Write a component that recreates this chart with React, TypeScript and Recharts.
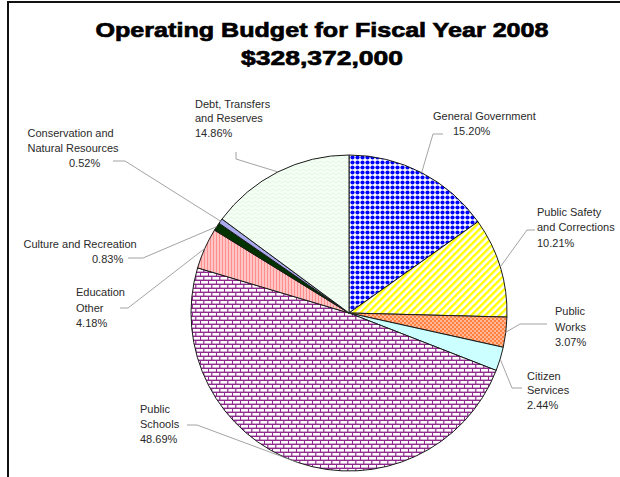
import { PieChart, Pie, Cell } from "recharts";

const categories = [
    "General Government",
    "Public Safety and Corrections",
    "Public Works",
    "Citizen Services",
    "Public Schools",
    "Education Other",
    "Culture and Recreation",
    "Conservation and Natural Resources",
    "Debt, Transfers and Reserves"
];

const shares = [15.2, 10.21, 3.07, 2.44, 48.69, 4.18, 0.83, 0.52, 14.86];

// how each label is broken into lines (percentage is added as the last line)
const labelText = [
    ["General Government"],
    ["Public Safety", "and Corrections"],
    ["Public", "Works"],
    ["Citizen", "Services"],
    ["Public", "Schools"],
    ["Education", "Other"],
    ["Culture and Recreation"],
    ["Conservation and", "Natural Resources"],
    ["Debt, Transfers", "and Reserves"]
];

const title = "Operating Budget for Fiscal Year 2008";
const subtitle = "$328,372,000";

const FILLS = [
    "url(#pGen)",
    "url(#pSafety)",
    "url(#pWorks)",
    "#ccffff",
    "url(#pSchools)",
    "url(#pEdu)",
    "#003300",
    "#aaaaee",
    "url(#pDebt)"
];

// label placement: x / baseline per line, then the bend points of the leader line
const LABEL_POS = [
    { xs: [433, 453], ys: [120, 135], leader: [[433, 134], [443, 134]] },
    { xs: [537, 537, 537], ys: [216, 231, 246.5], leader: [[527, 230], [535, 230]] },
    { xs: [555, 555, 555], ys: [315, 330.5, 346], leader: [[520, 324], [547, 324]] },
    { xs: [527, 527, 527], ys: [379.5, 394, 409], leader: [[512, 388], [522, 388]] },
    { xs: [140, 140, 140], ys: [412.5, 428, 443], leader: [[197, 425], [187, 425]] },
    { xs: [76, 76, 76], ys: [296, 311.5, 327], leader: [[128, 308], [120, 308]] },
    { xs: [23.5, 92], ys: [248, 263], leader: [[143, 258], [128, 258]] },
    { xs: [27.5, 27.5, 69], ys: [137, 152, 167], leader: [[125, 161], [113, 161]] },
    { xs: [195, 195, 195], ys: [108, 122, 136.5], leader: [[236, 159], [236, 152]] }
];

const data = categories.map((name, i) => ({ name, value: shares[i] }));

const RAD = Math.PI / 180;

function renderLabel(props: any) {
    const { cx, cy, midAngle, outerRadius, index } = props;
    const pos = LABEL_POS[index];
    const sx = cx + outerRadius * Math.cos(-midAngle * RAD);
    const sy = cy + outerRadius * Math.sin(-midAngle * RAD);
    const pts = [[sx, sy], ...pos.leader].map((p) => p.join(",")).join(" ");
    const lines = [...labelText[index], shares[index].toFixed(2) + "%"];

    return (
        <g>
            <polyline points={pts} fill="none" stroke="#8c8c8c" strokeWidth={0.8} />
            {lines.map((t, i) => (
                <text
                    key={i}
                    x={pos.xs[i]}
                    y={pos.ys[i]}
                    fontSize={11}
                    fontFamily="'Liberation Sans', Arial, sans-serif"
                    fill="#2a2a2a"
                >
                    {t}
                </text>
            ))}
        </g>
    );
}

export default function App() {

    return (

        <div style={{ position: "absolute", left: 0, top: 0, width: 620, height: 477, overflow: "hidden", background: "#fff" }}>

            <div style={{ position: "absolute", left: 7, top: 1, width: 640, height: 500, borderTop: "2px solid #111", borderLeft: "2px solid #111" }} />

            <div style={{ position: "absolute", left: 0, top: 0 }}>

                <PieChart width={620} height={477}>

                    <defs>
                        <pattern id="pGen" width="5" height="5" patternUnits="userSpaceOnUse">
                            <rect width="5" height="5" fill="#ffffff" />
                            <circle cx="2.5" cy="2.5" r="2.1" fill="#0000ff" />
                        </pattern>
                        <pattern id="pSafety" width="5" height="5" patternUnits="userSpaceOnUse" patternTransform="rotate(45)">
                            <rect width="5" height="5" fill="#ffffff" />
                            <rect width="2.4" height="5" fill="#ffff00" />
                        </pattern>
                        <pattern id="pWorks" width="4" height="4" patternUnits="userSpaceOnUse">
                            <rect width="4" height="4" fill="#ff8040" />
                            <circle cx="1" cy="1" r="0.8" fill="#ffffff" />
                            <circle cx="3" cy="3" r="0.8" fill="#ffffff" />
                        </pattern>
                        <pattern id="pSchools" width="8" height="8" patternUnits="userSpaceOnUse">
                            <rect width="8" height="8" fill="#8e2a8e" />
                            <rect x="1" y="1" width="7" height="2.6" fill="#ffffff" />
                            <rect x="0" y="5" width="3.2" height="2.6" fill="#ffffff" />
                            <rect x="4.4" y="5" width="3.6" height="2.6" fill="#ffffff" />
                        </pattern>
                        <pattern id="pEdu" width="3" height="3" patternUnits="userSpaceOnUse">
                            <rect width="3" height="3" fill="#ffc4c4" />
                            <rect width="1" height="3" fill="#ff9090" />
                        </pattern>
                        <pattern id="pDebt" width="6" height="4" patternUnits="userSpaceOnUse">
                            <rect width="6" height="4" fill="#f5fff5" />
                            <path d="M0 3 L3 1 L6 3" fill="none" stroke="#d8f4da" strokeWidth="0.7" />
                        </pattern>
                    </defs>

                    <text
                        x={322}
                        y={37}
                        textAnchor="middle"
                        fontSize={21}
                        fontWeight="bold"
                        fontFamily="'Liberation Sans', Arial, sans-serif"
                        textLength={453}
                        lengthAdjust="spacingAndGlyphs"
                        fill="#000"
                        stroke="#000"
                        strokeWidth={0.7}
                    >
                        {title}
                    </text>
                    <text
                        x={322}
                        y={65}
                        textAnchor="middle"
                        fontSize={21}
                        fontWeight="bold"
                        fontFamily="'Liberation Sans', Arial, sans-serif"
                        textLength={162}
                        lengthAdjust="spacingAndGlyphs"
                        fill="#000"
                        stroke="#000"
                        strokeWidth={0.7}
                    >
                        {subtitle}
                    </text>

                    <Pie
                        data={data}
                        dataKey="value"
                        nameKey="name"
                        cx={344}
                        cy={308}
                        outerRadius={158}
                        startAngle={90}
                        endAngle={-270}
                        stroke="#1a1a1a"
                        strokeWidth={1}
                        label={renderLabel}
                        labelLine={false}
                        isAnimationActive={false}
                    >

                        {data.map((_: any, index: number) => (

                            <Cell key={index} fill={FILLS[index]} />

                        ))}

                    </Pie>

                </PieChart>

            </div>

        </div>

    );

}
